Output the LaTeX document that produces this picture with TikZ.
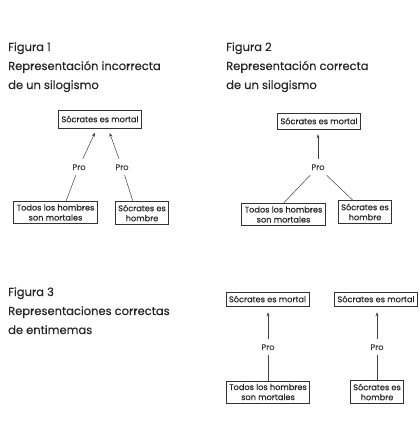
\documentclass[tikz,border=0pt]{standalone}
\usepackage{fontspec}
\setmainfont{Poppins}[FakeBold=0.35]
\usetikzlibrary{arrows.meta, positioning}

\begin{document}
\begin{tikzpicture}[
        x=1pt, y=-1pt,
        box/.style={rectangle, draw=black!80, line width=0.6pt, align=center, inner xsep=3pt, inner ysep=3pt, minimum height=16pt, text=black!85, font=\fontsize{8.2}{10}\selectfont},
        pro/.style={inner xsep=2pt, inner ysep=5pt, text height=6pt, text depth=0pt, text=black!75, font=\fontsize{8.2}{10}\selectfont},
        title/.style={anchor=base west, align=left, inner sep=0pt, text=black!85, font=\fontsize{11.5}{19}\selectfont},
        arrow/.style={-{Stealth[length=4pt, width=3pt]}, line width=0.5pt, black!75},
        link/.style={line width=0.5pt, black!75}
    ]
    \useasboundingbox (0,0) rectangle (420,426);

    % Titles (anchored at the last line)
    \node[title] (fig1) at (8,89) {Figura 1\\Representación incorrecta\\de un silogismo};
    \node[title] (fig2) at (226,89) {Figura 2\\Representación correcta\\de un silogismo};
    \node[title] (fig3) at (8,334) {Figura 3\\Representaciones correctas\\de entimemas};

    % Figura 1
    \node[box, minimum height=18pt] (mortal1) at (100,119) {Sócrates es mortal};
    \node[box] (todos1) at (55.5,212.5) {Todos los hombres\\son mortales};
    \node[box] (hombre1) at (142,213) {Sócrates es\\hombre};
    \node[pro] (proA) at (79,167) {Pro};
    \node[pro] (proB) at (122,167) {Pro};

    % Figura 2
    \node[box] (mortal2) at (319,121) {Sócrates es mortal};
    \node[box] (todos2) at (283.5,214.5) {Todos los hombres\\son mortales};
    \node[box] (hombre2) at (365,212) {Sócrates es\\hombre};
    \node[pro] (proC) at (318,167) {Pro};

    % Figura 3
    \node[box, minimum height=14pt] (mortal3) at (267.5,299) {Sócrates es mortal};
    \node[box, minimum height=14pt] (mortal4) at (376,299) {Sócrates es mortal};
    \node[box] (todos3) at (268,392) {Todos los hombres\\son mortales};
    \node[box] (hombre3) at (377,392) {Sócrates es\\hombre};
    \node[pro] (proD) at (268,347) {Pro};
    \node[pro] (proE) at (377,347) {Pro};

    % Arrows
    \draw[link] (proA) -- ([xshift=10.5pt]todos1.north);
    \draw[arrow, shorten >=5pt] (proA) -- ([xshift=-3pt]mortal1.south);
    \draw[link] (proB) -- ([xshift=-9pt]hombre1.north);
    \draw[arrow, shorten >=5pt] (proB) -- ([xshift=8pt]mortal1.south);

    \draw[link] (proC) -- (todos2.north);
    \draw[link] (proC) -- ([xshift=-12pt]hombre2.north);
    \draw[arrow, shorten >=5pt] (proC) -- (proC |- mortal2.south);

    \draw[link] (proD) -- (todos3);
    \draw[arrow, shorten >=6pt] (proD) -- (proD |- mortal3.south);
    \draw[link] (proE) -- (hombre3);
    \draw[arrow, shorten >=6pt] (proE) -- (proE |- mortal4.south);

\end{tikzpicture}
\end{document}
